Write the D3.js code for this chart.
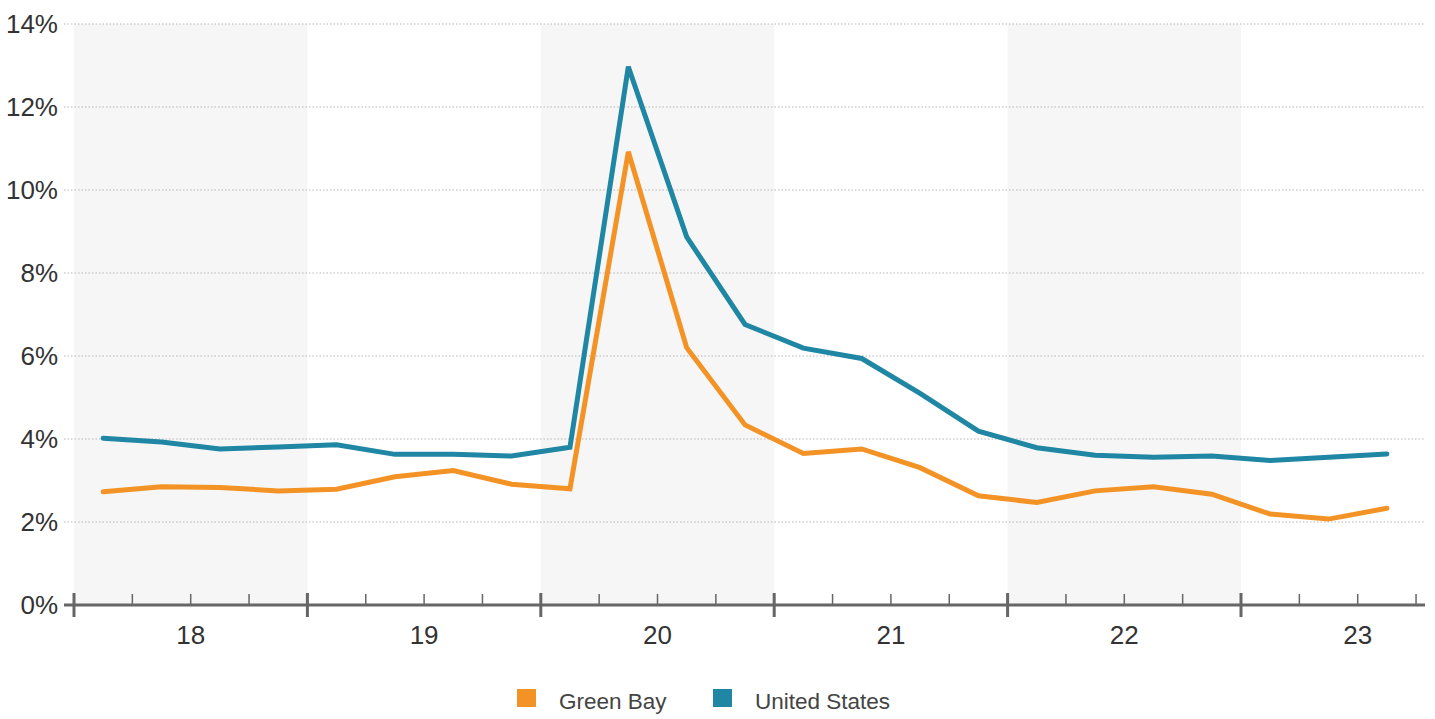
<!DOCTYPE html>
<html>
<head>
<meta charset="utf-8">
<script src="https://cdn.jsdelivr.net/npm/d3@7"></script>
<style>
  html, body { margin: 0; padding: 0; background: #fff; }
  svg { display: block; font-family: "Liberation Sans", Arial, sans-serif; }
</style>
</head>
<body>
<svg id="chart" width="1435" height="719"></svg>
<script>
// Quarterly unemployment rate, 2018 Q1 – 2023 Q3
const years = [2018, 2019, 2020, 2021, 2022, 2023];
const yearLabels = ["18", "19", "20", "21", "22", "23"];
const quarters = [
  "2018 Q1","2018 Q2","2018 Q3","2018 Q4",
  "2019 Q1","2019 Q2","2019 Q3","2019 Q4",
  "2020 Q1","2020 Q2","2020 Q3","2020 Q4",
  "2021 Q1","2021 Q2","2021 Q3","2021 Q4",
  "2022 Q1","2022 Q2","2022 Q3","2022 Q4",
  "2023 Q1","2023 Q2","2023 Q3"
];
const greenBay = [2.73, 2.85, 2.83, 2.75, 2.79, 3.09, 3.24, 2.91, 2.80, 10.92, 6.20, 4.34,
                  3.65, 3.76, 3.31, 2.63, 2.47, 2.75, 2.85, 2.67, 2.19, 2.07, 2.33];
const unitedStates = [4.02, 3.93, 3.76, 3.81, 3.86, 3.63, 3.63, 3.59, 3.80, 12.97, 8.87, 6.76,
                      6.19, 5.94, 5.10, 4.19, 3.79, 3.61, 3.56, 3.59, 3.48, 3.56, 3.64];
const yTicks = [0, 2, 4, 6, 8, 10, 12, 14];
const seriesNames = ["Green Bay", "United States"];
const seriesColors = ["#f39325", "#1f86a3"];

const svg = d3.select("#chart");

// time position of each quarter's midpoint, in fractional years
const quarterTime = (i) => 2018 + (i + 0.5) / 4;

const x = d3.scaleLinear().domain([2018, 2024]).range([74, 74 + 6 * 233.4]);
const y = d3.scaleLinear().domain([0, 14]).range([605, 24]);
const axisLeft = 64, axisRight = 1425;

// alternating year shading
svg.append("g").selectAll("rect")
  .data(years.filter((d, i) => i % 2 === 0))
  .join("rect")
  .attr("x", d => x(d))
  .attr("width", d => x(d + 1) - x(d))
  .attr("y", y(14))
  .attr("height", y(0) - y(14))
  .attr("fill", "#f6f6f6");

// horizontal dotted gridlines
svg.append("g").selectAll("line")
  .data(yTicks.filter(d => d > 0))
  .join("line")
  .attr("x1", axisLeft).attr("x2", axisRight)
  .attr("y1", d => y(d)).attr("y2", d => y(d))
  .attr("stroke", "#b5b5b5")
  .attr("stroke-width", 1)
  .attr("stroke-dasharray", "1.5,2");

// y tick labels
svg.append("g").selectAll("text")
  .data(yTicks)
  .join("text")
  .attr("x", 58)
  .attr("y", d => y(d))
  .attr("dy", "0.36em")
  .attr("text-anchor", "end")
  .attr("font-size", 26)
  .attr("fill", "#333")
  .text(d => d + "%");

// series lines
const line = d3.line()
  .x((d, i) => x(quarterTime(i)))
  .y(d => y(d));

[greenBay, unitedStates].forEach((s, k) => {
  svg.append("path")
    .datum(s)
    .attr("d", line)
    .attr("fill", "none")
    .attr("stroke", seriesColors[k])
    .attr("stroke-width", 5)
    .attr("stroke-linejoin", "miter")
    .attr("stroke-linecap", "round");
});

// x axis baseline
svg.append("line")
  .attr("x1", axisLeft).attr("x2", axisRight)
  .attr("y1", y(0)).attr("y2", y(0))
  .attr("stroke", "#666").attr("stroke-width", 3);

// quarter ticks
const minorTicks = d3.range(1, 24).map(i => 2018 + i / 4).filter(t => t % 1 !== 0);
svg.append("g").selectAll("line")
  .data(minorTicks)
  .join("line")
  .attr("x1", d => x(d)).attr("x2", d => x(d))
  .attr("y1", y(0) - 11).attr("y2", y(0))
  .attr("stroke", "#666").attr("stroke-width", 1.5);

// year ticks
svg.append("g").selectAll("line")
  .data(years)
  .join("line")
  .attr("x1", d => x(d)).attr("x2", d => x(d))
  .attr("y1", y(0) - 12).attr("y2", y(0) + 12)
  .attr("stroke", "#666").attr("stroke-width", 3);

// year labels
svg.append("g").selectAll("text")
  .data(years)
  .join("text")
  .attr("x", d => x(d + 0.5))
  .attr("y", 644)
  .attr("text-anchor", "middle")
  .attr("font-size", 26)
  .attr("fill", "#333")
  .text((d, i) => yearLabels[i]);

// legend
const legendX = [517, 713];
const legend = svg.append("g").selectAll("g")
  .data(seriesNames)
  .join("g")
  .attr("transform", (d, i) => `translate(${legendX[i]},689)`);
legend.append("rect")
  .attr("width", 19).attr("height", 18)
  .attr("fill", (d, i) => seriesColors[i]);
legend.append("text")
  .attr("x", 42).attr("y", 20)
  .attr("font-size", 22.5)
  .attr("fill", "#444")
  .text(d => d);
</script>
</body>
</html>
